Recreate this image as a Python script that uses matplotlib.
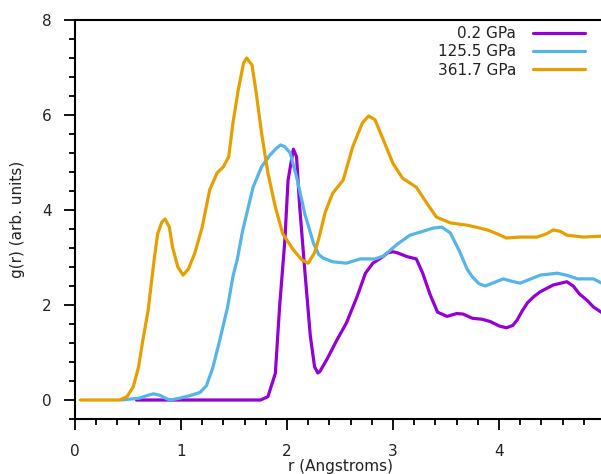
import matplotlib
matplotlib.use("Agg")
import matplotlib.pyplot as plt
from matplotlib.ticker import MultipleLocator, FixedLocator

labels = ["0.2 GPa", "125.5 GPa", "361.7 GPa"]
colors = ["#9400D3", "#56B4E9", "#E69F00"]
xticks = [0, 1, 2, 3, 4]

r_02 = [0.58, 1.0, 1.5, 1.75, 1.82, 1.89, 1.93, 1.98, 2.01, 2.06, 2.09, 2.12, 2.17, 2.22,
        2.26, 2.29, 2.31, 2.38, 2.47, 2.56, 2.66, 2.74, 2.81, 2.90, 2.95, 3.00, 3.04,
        3.13, 3.22, 3.28, 3.35, 3.42, 3.51, 3.60, 3.66, 3.75, 3.84, 3.92, 4.00, 4.07,
        4.13, 4.17, 4.22, 4.27, 4.33, 4.39, 4.51, 4.64, 4.70, 4.76, 4.83, 4.89, 4.97]
g_02 = [0.0, 0.0, 0.0, 0.0, 0.07, 0.56, 1.96, 3.37, 4.63, 5.28, 5.12, 4.06, 2.67, 1.35,
        0.70, 0.57, 0.60, 0.87, 1.26, 1.62, 2.17, 2.67, 2.88, 3.01, 3.10, 3.12, 3.10,
        3.02, 2.97, 2.67, 2.22, 1.85, 1.76, 1.82, 1.81, 1.72, 1.70, 1.65, 1.56, 1.52,
        1.57, 1.68, 1.88, 2.05, 2.18, 2.28, 2.42, 2.49, 2.40, 2.23, 2.10, 1.96, 1.84]

r_125 = [0.44, 0.61, 0.69, 0.74, 0.80, 0.86, 0.90, 0.99, 1.08, 1.18, 1.24, 1.30, 1.37,
         1.44, 1.49, 1.53, 1.58, 1.68, 1.76, 1.84, 1.90, 1.94, 1.98, 2.03, 2.09, 2.17,
         2.25, 2.30, 2.34, 2.43, 2.56, 2.69, 2.83, 2.91, 3.04, 3.16, 3.28, 3.38, 3.46,
         3.54, 3.63, 3.70, 3.75, 3.81, 3.87, 3.95, 4.04, 4.12, 4.20, 4.30, 4.39, 4.55,
         4.65, 4.74, 4.89, 4.97]
g_125 = [0.0, 0.04, 0.10, 0.13, 0.10, 0.03, 0.0, 0.04, 0.09, 0.16, 0.30, 0.68, 1.30,
         1.96, 2.60, 2.95, 3.55, 4.48, 4.91, 5.16, 5.30, 5.37, 5.33, 5.20, 4.70, 3.90,
         3.30, 3.06, 2.99, 2.91, 2.88, 2.97, 2.97, 3.03, 3.28, 3.47, 3.55, 3.62, 3.64,
         3.52, 3.12, 2.75, 2.59, 2.45, 2.40, 2.47, 2.55, 2.50, 2.46, 2.55, 2.63, 2.67,
         2.62, 2.55, 2.55, 2.46]

r_361 = [0.05, 0.42, 0.49, 0.55, 0.60, 0.64, 0.69, 0.72, 0.75, 0.78, 0.82, 0.85, 0.89,
         0.92, 0.97, 1.02, 1.07, 1.13, 1.20, 1.27, 1.34, 1.40, 1.45, 1.49, 1.54, 1.59,
         1.62, 1.67, 1.71, 1.76, 1.82, 1.89, 1.96, 2.06, 2.14, 2.20, 2.26, 2.30, 2.36,
         2.43, 2.53, 2.62, 2.71, 2.77, 2.83, 2.91, 3.00, 3.09, 3.22, 3.32, 3.41, 3.54,
         3.63, 3.70, 3.80, 3.89, 3.98, 4.07, 4.20, 4.36, 4.45, 4.51, 4.58, 4.64, 4.80,
         4.97]
g_361 = [0.0, 0.0, 0.07, 0.28, 0.70, 1.26, 1.89, 2.46, 3.01, 3.50, 3.75, 3.81, 3.64,
         3.22, 2.80, 2.63, 2.76, 3.09, 3.64, 4.42, 4.78, 4.91, 5.12, 5.83, 6.53, 7.09,
         7.20, 7.05, 6.46, 5.62, 4.78, 4.06, 3.50, 3.16, 2.95, 2.88, 3.10, 3.40, 3.95,
         4.35, 4.63, 5.33, 5.83, 5.98, 5.90, 5.47, 4.98, 4.67, 4.48, 4.14, 3.85, 3.73,
         3.70, 3.68, 3.63, 3.58, 3.50, 3.41, 3.43, 3.43, 3.50, 3.58, 3.55, 3.47, 3.43,
         3.45]

W, H = 601, 474
fig = plt.figure(figsize=(W / 100, H / 100), dpi=100)
ax = fig.add_axes([75 / W, 55 / H, 530 / W, 399 / H])

series = [(r_02, g_02), (r_125, g_125), (r_361, g_361)]
for (x, y), lab, c in zip(series, labels, colors):
    ax.plot(x, y, color=c, lw=2.3, label=lab, solid_joinstyle="round",
            solid_capstyle="round")

ax.set_xlim(0, 5)
ax.set_ylim(-0.4, 8)
ax.xaxis.set_major_locator(FixedLocator(xticks))
ax.xaxis.set_minor_locator(MultipleLocator(0.2))
ax.yaxis.set_major_locator(MultipleLocator(2))
ax.yaxis.set_minor_locator(MultipleLocator(0.4))

txtc = "#222222"
ax.tick_params(which="major", direction="out", length=8, width=1.3, labelsize=11,
               colors="black", labelcolor=txtc, top=False, right=False)
ax.tick_params(axis="x", which="major", pad=10)
ax.tick_params(axis="y", which="major", pad=9)
ax.tick_params(which="minor", direction="out", length=4.5, width=1.3, top=False, right=False)
for s in ["left", "bottom", "top"]:
    ax.spines[s].set_linewidth(1.5)
ax.spines["right"].set_visible(False)

ax.set_xlabel("r (Angstroms)", fontsize=11, color=txtc, labelpad=0)
ax.set_ylabel("g(r) (arb. units)", fontsize=11, color=txtc, labelpad=12)

leg = ax.legend(loc="upper right", bbox_to_anchor=(585 / W, (H - 26) / H),
                bbox_transform=fig.transFigure, frameon=False, markerfirst=False,
                fontsize=11, handlelength=3.4, handletextpad=1.1, labelspacing=0.22,
                borderpad=0, borderaxespad=0)
for t in leg.get_texts():
    t.set_color(txtc)

fig.savefig("out.png", dpi=100)
